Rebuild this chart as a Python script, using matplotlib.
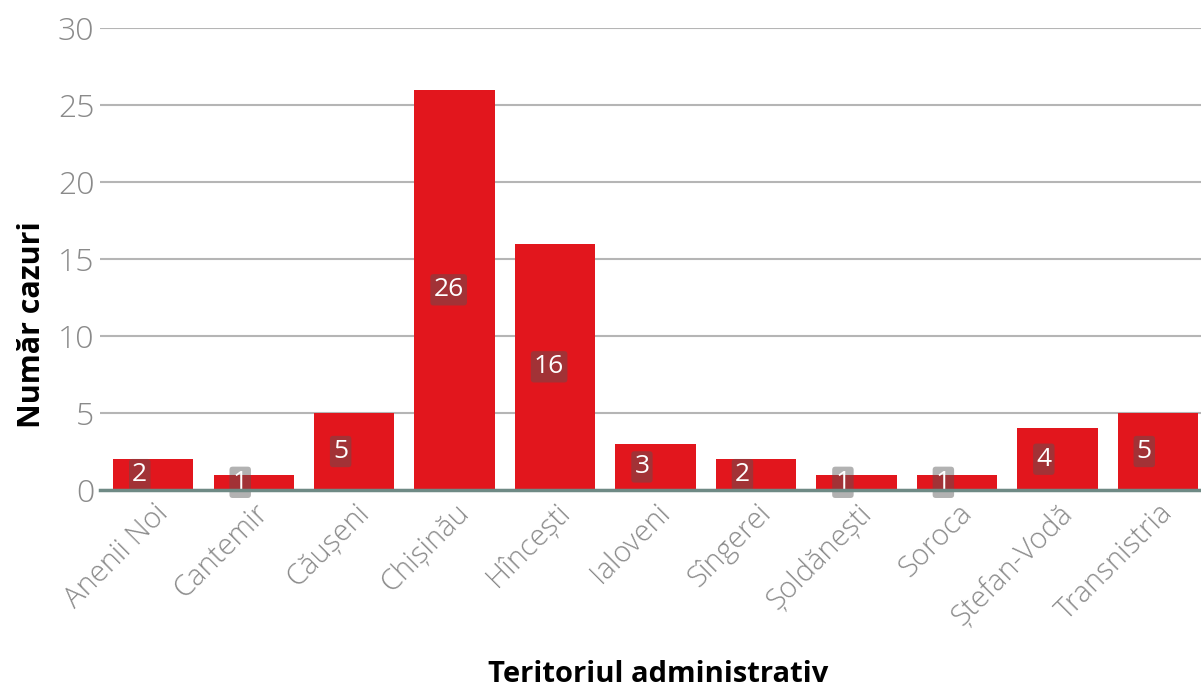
import matplotlib
matplotlib.use("Agg")
import matplotlib.pyplot as plt

categories = ["Anenii Noi", "Cantemir", "Căușeni", "Chișinău", "Hîncești", "Ialoveni",
              "Sîngerei", "Șoldănești", "Soroca", "Ștefan-Vodă", "Transnistria"]
values = [2, 1, 5, 26, 16, 3, 2, 1, 1, 4, 5]
yticks = [0, 5, 10, 15, 20, 25, 30]

plt.rcParams['font.family'] = ['Open Sans', 'DejaVu Sans']

fig = plt.figure(figsize=(12.01, 6.89), dpi=100)
ax = fig.add_axes([0.0833, 0.2888, 0.9167, 0.6706])

x = list(range(len(categories)))
bars = ax.bar(x, values, width=0.8, color="#E2161D", zorder=3)

for xi, v in zip(x, values):
    ax.text(xi - 0.21, v / 2, str(v), ha="left", va="center", color="white",
            fontsize=19, zorder=4,
            bbox=dict(boxstyle="round,pad=0.12", fc="#555555", ec="none", alpha=0.45))

ax.set_ylim(0, 30)
ax.set_xlim(-0.53, 10.43)
ax.set_yticks(yticks)
ax.set_yticklabels([str(t) for t in yticks], fontsize=23, color="#8a8a8a", fontweight="light")
ax.set_xticks(x)
ax.set_xticklabels(categories, rotation=45, ha="right", rotation_mode="anchor",
                   fontsize=21, color="#8a8a8a", fontweight="light")
ax.tick_params(axis="y", length=0, pad=4)
ax.tick_params(axis="x", length=0, pad=6)

ax.yaxis.grid(True, color="#b5b5b5", linewidth=1.5, zorder=0)
for s in ["top", "right", "left"]:
    ax.spines[s].set_visible(False)
ax.spines["bottom"].set_color("#6f8a85")
ax.spines["bottom"].set_linewidth(2.5)
ax.spines["bottom"].set_zorder(5)

ax.set_ylabel("Număr cazuri", fontsize=22, fontweight="bold", color="black")
ax.yaxis.set_label_coords(-0.048, 0.357)
fig.text(0.548, 0.0, "Teritoriul administrativ", fontsize=21, fontweight="bold",
         ha="center", va="bottom")

fig.savefig("out.png", dpi=100)
